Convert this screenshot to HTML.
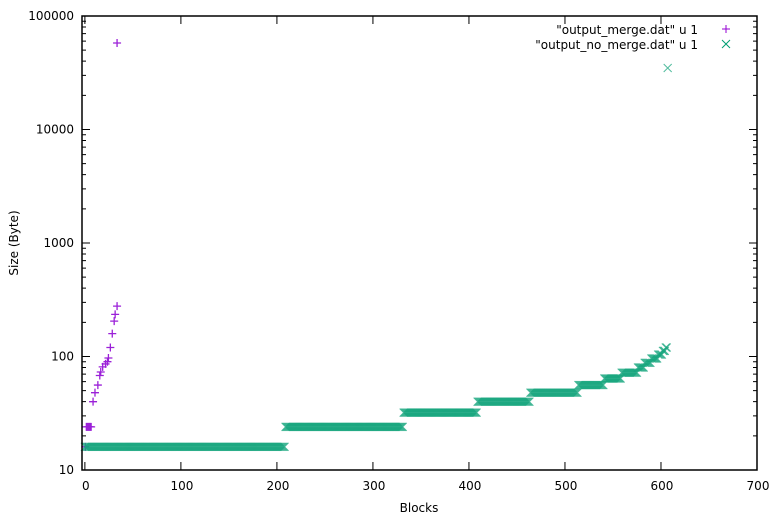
<!DOCTYPE html>
<html><head><meta charset="utf-8"><style>
html,body{margin:0;padding:0;background:#fff;}
svg{display:block;font-family:"DejaVu Sans","Liberation Sans",sans-serif;font-size:12px;}
</style></head><body>
<svg id="chart" width="778" height="518" viewBox="0 0 778 518" xmlns="http://www.w3.org/2000/svg">
<rect width="778" height="518" fill="#fff"/>
<g id="axes"></g>
<g id="series-merge"></g>
<g id="series-nomerge"></g>
<rect x="82" y="16" width="675" height="454" fill="none" stroke="#000" stroke-width="1.5"/>
<text transform="translate(18,243) rotate(-90)" text-anchor="middle">Size (Byte)</text>
<text x="419" y="512" text-anchor="middle">Blocks</text>
<g>
<text x="698" y="34" text-anchor="end">"output_merge.dat" u 1</text>
<path d="M722,29h8M726,25v8" stroke="#9400d3" stroke-width="1"/>
<text x="698" y="49" text-anchor="end">"output_no_merge.dat" u 1</text>
<path d="M722,40l8,8M730,40l-8,8" stroke="#009e73" stroke-width="1"/>
</g>
</svg>
<script>
const xTicks = [0,100,200,300,400,500,600,700];
const yTicks = [10,100,1000,10000,100000];
const yTickLabels = ["10","100","1000","10000","100000"];
// no-merge series as runs: start block, end block, value
const nmStart = [0,209,332,409,464,514,541,559,576,583,590,597,602,605,607];
const nmEnd   = [208,331,408,463,513,540,558,575,582,589,596,601,604,606,607];
const nmValue = [16,24,32,40,48,56,64,72,80,88,96,104,112,120,34800];
// merge series points
const mX = [0,1,2,3,4,5,6,8,10,13,15,16,18,21,23,24,26,28,30,31,33,33];
const mY = [16,24,24,24,24,24,24,40,48,56,68,73,81,86,90,97,120,159,205,235,278,57800];

const X0=82,X1=757,XMIN=-3,XMAX=700,Y0=470,Y1=16;
const sx=v=>X0+(v-XMIN)*(X1-X0)/(XMAX-XMIN);
const sy=v=>Y0-(Math.log10(v)-1)*(Y0-Y1)/4;
const NS="http://www.w3.org/2000/svg";
function mk(tag,attrs,parent){const e=document.createElementNS(NS,tag);for(const k in attrs)e.setAttribute(k,attrs[k]);parent.appendChild(e);return e;}
const axes=document.getElementById('axes');
xTicks.forEach(t=>{
  const x=sx(t);
  const l=mk('path',{d:`M${x},${Y0}v-8M${x},${Y1}v8`,stroke:'#000','stroke-width':1},axes);
  
  
  const tx=mk('text',{x:x+1,y:490,'text-anchor':'middle'},axes);
  tx.textContent=String(t);
  
  
});
yTicks.forEach((t,i)=>{
  const y=sy(t);
  const l=mk('path',{d:`M${X0},${y}h8M${X1},${y}h-8`,stroke:'#000','stroke-width':1},axes);
  
  
  const tx=mk('text',{x:74,y:y+4,'text-anchor':'end'},axes);
  tx.textContent=yTickLabels[i];
  
  
  if(i<yTicks.length-1){
    for(let m=2;m<10;m++){
      const ym=sy(t*m);
      const ml=mk('path',{d:`M${X0},${ym}h4M${X1},${ym}h-4`,stroke:'#000','stroke-width':1},axes);
      
      
    }
  }
});
const gm=document.getElementById('series-nomerge');
for(let r=0;r<nmStart.length;r++){
  for(let b=nmStart[r];b<=nmEnd[r];b++){
    const x=sx(b),y=sy(nmValue[r]);
    const p=mk('path',{d:`M${x-4},${y-4}l8,8M${x+4},${y-4}l-8,8`,stroke:'#17a67e','stroke-width':1,'stroke-opacity':0.75},gm);
    
    
  }
}
const gp=document.getElementById('series-merge');
for(let i=0;i<mX.length;i++){
  const x=sx(mX[i])+0.5,y=sy(mY[i]);
  const p=mk('path',{d:`M${x-4},${y}h8M${x},${y-4}v8`,stroke:'#9b20d8','stroke-width':1.3},gp);
  
  
}
</script>
</body></html>
